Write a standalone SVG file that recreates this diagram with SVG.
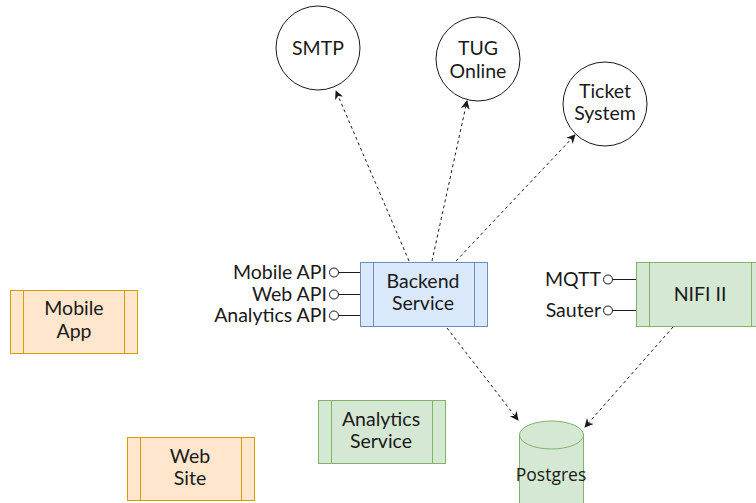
<svg xmlns="http://www.w3.org/2000/svg" width="756" height="503" viewBox="0 0 756 503">
<defs>
<style>
.t{font-family:Lato,"Open Sans",sans-serif;font-size:19.5px;fill:#1a1a1a;text-anchor:middle}
.l{font-family:Lato,"Open Sans",sans-serif;font-size:19.5px;fill:#1a1a1a;text-anchor:end}
.circ{fill:#fff;stroke:#1a1a1a;stroke-width:1}
.blue{fill:#dae8fc;stroke:#6c8ebf}
.green{fill:#d5e8d4;stroke:#82b366}
.orange{fill:#ffe6cc;stroke:#d79b00}
.port{fill:#fff;stroke:#1a1a1a;stroke-width:1}
.pl{stroke:#1a1a1a;stroke-width:1}
.dash{fill:none;stroke:#1a1a1a;stroke-width:1;stroke-dasharray:3 3}
</style>
<marker id="ah" viewBox="0 0 10 10" refX="9" refY="5" markerWidth="9" markerHeight="9" markerUnits="userSpaceOnUse" orient="auto">
<path d="M0,0 L10,5 L0,10 L3,5 Z" fill="#1a1a1a"/>
</marker>
</defs>
<g id="connectors">
<path class="dash" d="M409,261 L336,91" marker-end="url(#ah)"/>
<path class="dash" d="M432,261 L467,101" marker-end="url(#ah)"/>
<path class="dash" d="M456,261 L575,135" marker-end="url(#ah)"/>
<path class="dash" d="M447,328 L518,420" marker-end="url(#ah)"/>
<path class="dash" d="M673,327 L585,427" marker-end="url(#ah)"/>
</g>
<g id="smtp">
<circle class="circ" cx="318" cy="48" r="42"/>
<text class="t" x="318" y="55">SMTP</text>
</g>
<g id="tug">
<circle class="circ" cx="478" cy="59" r="42"/>
<text class="t" x="478" y="55">TUG</text>
<text class="t" x="478" y="78">Online</text>
</g>
<g id="ticket">
<circle class="circ" cx="605" cy="104" r="42"/>
<text class="t" x="605" y="98">Ticket</text>
<text class="t" x="605" y="120">System</text>
</g>
<g id="backend">
<rect class="blue" x="360.5" y="262.5" width="127" height="64"/>
<line class="blue" x1="373.5" y1="262.5" x2="373.5" y2="326.5"/>
<line class="blue" x1="474.5" y1="262.5" x2="474.5" y2="326.5"/>
<text class="t" x="423" y="288">Backend</text>
<text class="t" x="423" y="310">Service</text>
<line class="pl" x1="338" y1="272.5" x2="360" y2="272.5"/>
<line class="pl" x1="338" y1="294.5" x2="360" y2="294.5"/>
<line class="pl" x1="338" y1="315.5" x2="360" y2="315.5"/>
<circle class="port" cx="334" cy="272.5" r="4.5"/>
<circle class="port" cx="334" cy="294.5" r="4.5"/>
<circle class="port" cx="334" cy="315.5" r="4.5"/>
<text class="l" x="327" y="279">Mobile API</text>
<text class="l" x="327" y="301">Web API</text>
<text class="l" x="327" y="322">Analytics API</text>
</g>
<g id="nifi">
<rect class="green" x="636.5" y="262.5" width="128" height="64"/>
<line class="green" x1="649.5" y1="262.5" x2="649.5" y2="326.5"/>
<line class="green" x1="751.5" y1="262.5" x2="751.5" y2="326.5"/>
<text class="t" x="700" y="301">NIFI II</text>
<line class="pl" x1="612" y1="279.5" x2="636" y2="279.5"/>
<line class="pl" x1="612" y1="310.5" x2="636" y2="310.5"/>
<circle class="port" cx="608" cy="279.5" r="4.5"/>
<circle class="port" cx="608" cy="310.5" r="4.5"/>
<text class="l" x="601" y="286">MQTT</text>
<text class="l" x="601" y="317">Sauter</text>
</g>
<g id="mobile">
<rect class="orange" x="10.5" y="290.5" width="127" height="63"/>
<line class="orange" x1="23.5" y1="290.5" x2="23.5" y2="353.5"/>
<line class="orange" x1="124.5" y1="290.5" x2="124.5" y2="353.5"/>
<text class="t" x="74" y="315">Mobile</text>
<text class="t" x="74" y="338">App</text>
</g>
<g id="website">
<rect class="orange" x="127.5" y="437.5" width="127" height="63"/>
<line class="orange" x1="140.5" y1="437.5" x2="140.5" y2="500.5"/>
<line class="orange" x1="241.5" y1="437.5" x2="241.5" y2="500.5"/>
<text class="t" x="190" y="463">Web</text>
<text class="t" x="190" y="485">Site</text>
</g>
<g id="analytics">
<rect class="green" x="318.5" y="400.5" width="127" height="63"/>
<line class="green" x1="331.5" y1="400.5" x2="331.5" y2="463.5"/>
<line class="green" x1="432.5" y1="400.5" x2="432.5" y2="463.5"/>
<text class="t" x="381" y="426">Analytics</text>
<text class="t" x="381" y="448">Service</text>
</g>
<g id="postgres">
<path class="green" d="M519.5,435 L519.5,510 L583.5,510 L583.5,435 A32,14 0 0 0 519.5,435 Z"/>
<path fill="none" stroke="#82b366" d="M519.5,435 A32,14 0 0 0 583.5,435"/>
<text x="551" y="481" style="font-family:'Open Sans',sans-serif;font-size:17.5px;fill:#1a1a1a;text-anchor:middle">Postgres</text>
</g>
</svg>
